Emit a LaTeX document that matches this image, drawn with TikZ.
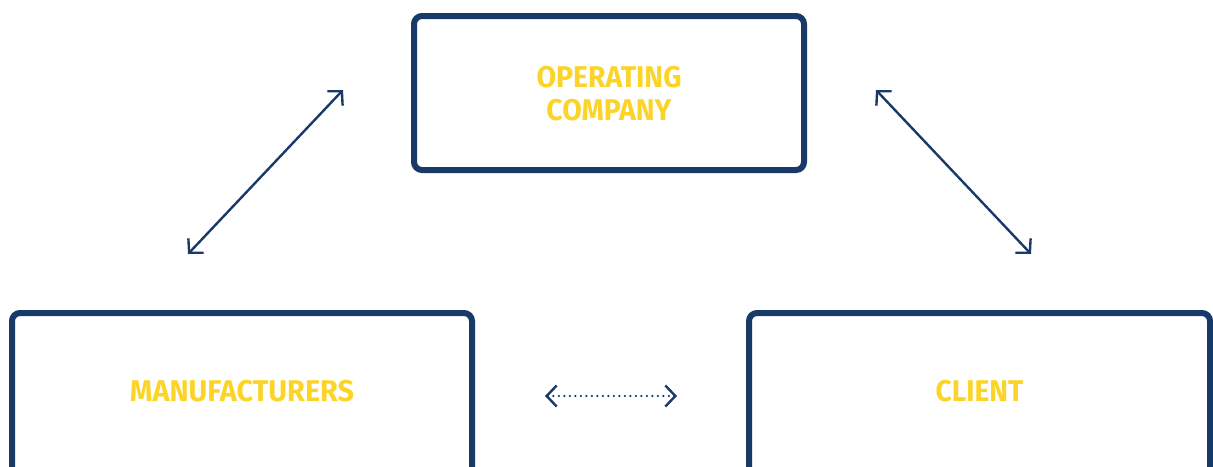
\documentclass[tikz,border=0pt]{standalone}
\usepackage{fontspec}
\setmainfont{Fira Sans}
\usetikzlibrary{arrows.meta}
\definecolor{navy}{RGB}{24,58,104}
\definecolor{gold}{RGB}{252,212,40}
\begin{document}
\begin{tikzpicture}[x=1pt,y=-1pt,
  box/.style={draw=navy,line width=6pt,rounded corners=8pt,inner sep=0pt},
  lbl/.style={text=gold,font=\fontsize{30}{33}\selectfont\bfseries,align=center,inner sep=0pt},
  link/.style={draw=navy,line width=2.4pt,{Straight Barb[length=10pt,width=21pt,line width=2.4pt]}-{Straight Barb[length=10pt,width=21pt,line width=2.4pt]}},
  dotlink/.style={link,line cap=round,dash pattern=on 0pt off 5.5pt}]
\useasboundingbox (0,0) rectangle (1213,466);
\clip (0,0) rectangle (1213,466);
\node[box,minimum width=390pt,minimum height=154pt] (op) at (609,93) {};
\node[box,minimum width=460pt,minimum height=170pt] (man) at (242,398) {};
\node[box,minimum width=461pt,minimum height=170pt] (cli) at (979.5,398) {};
\node[lbl] (optext) at (609,94) {\scalebox{0.945}[1]{OPERATING}\\\scalebox{0.945}[1]{COMPANY}};
\node[lbl] (mantext) at (242,391) {\scalebox{0.96}[1]{MANUFACTURERS}};
\node[lbl] (clitext) at (979.5,391) {\scalebox{0.94}[1]{CLIENT}};
\coordinate (a1) at (188,254);
\coordinate (a2) at (343,90);
\coordinate (b1) at (876,90);
\coordinate (b2) at (1031,254);
\coordinate (c1) at (545,396);
\coordinate (c2) at (677,396);
\draw[link] (a1) -- (a2);
\draw[link] (b1) -- (b2);
\draw[dotlink] (c1) -- (c2);
\end{tikzpicture}
\end{document}
